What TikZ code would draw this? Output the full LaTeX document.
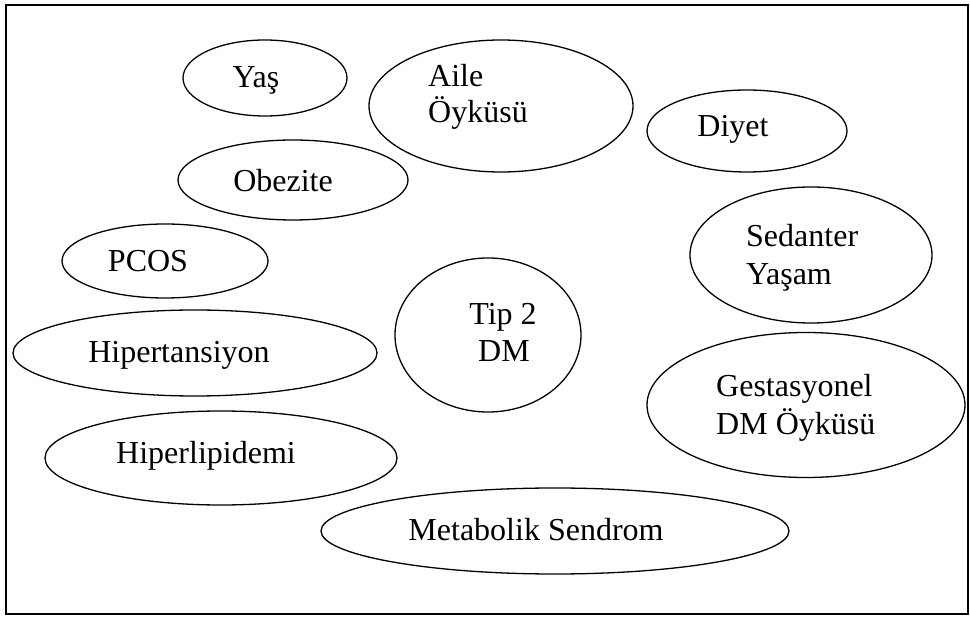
\documentclass[tikz,border=0pt]{standalone}
\usepackage{fontspec}
\setmainfont{Liberation Serif}
\usetikzlibrary{shapes.geometric}
\begin{document}
\begin{tikzpicture}[x=1pt,y=-1pt,
  oval/.style={draw=black,line width=1.3pt,ellipse,inner sep=0pt},
  lbl/.style={inner sep=0pt,font=\fontsize{32}{38}\selectfont},
  frame/.style={draw=black,line width=1.8pt}]
\useasboundingbox (0,0) rectangle (970,617);
\node[frame,rectangle,minimum width=962pt,minimum height=609pt,anchor=north west] (box) at (5,4) {};
% ellipses
\node[oval,minimum width=164pt,minimum height=76pt] (yas) at (265,78) {};
\node[oval,minimum width=264pt,minimum height=132pt] (aile) at (501,106) {};
\node[oval,minimum width=200pt,minimum height=82pt] (diyet) at (747,131) {};
\node[oval,minimum width=230pt,minimum height=80pt] (obez) at (293,180) {};
\node[oval,minimum width=206pt,minimum height=74pt] (pcos) at (165,261) {};
\node[oval,minimum width=242pt,minimum height=136pt] (sed) at (811,255) {};
\node[oval,minimum width=186pt,minimum height=154pt] (tip) at (488,335) {};
\node[oval,minimum width=364pt,minimum height=86pt] (hiper) at (195,353) {};
\node[oval,minimum width=318pt,minimum height=145pt] (gest) at (806,405) {};
\node[oval,minimum width=352pt,minimum height=94pt] (lipid) at (221,458) {};
\node[oval,minimum width=468pt,minimum height=86pt] (meta) at (555,531) {};
% texts
\node[lbl,anchor=base] (yasT) at (256,88) {Yaş};
\node[lbl,anchor=base west] (aileT1) at (428,87) {Aile};
\node[lbl,anchor=base west] (aileT2) at (428,123) {Öyküsü};
\node[lbl,anchor=base] (diyetT) at (733,137) {Diyet};
\node[lbl,anchor=base] (obezT) at (283,192) {Obezite};
\node[lbl,anchor=base] (pcosT) at (148,272) {PCOS};
\node[lbl,anchor=base west] (sedT1) at (746,247) {Sedanter};
\node[lbl,anchor=base west] (sedT2) at (746,285) {Yaşam};
\node[lbl,anchor=base] (tipT1) at (503,325) {Tip 2};
\node[lbl,anchor=base] (tipT2) at (504,362) {DM};
\node[lbl,anchor=base] (hiperT) at (179,363) {Hipertansiyon};
\node[lbl,anchor=base west] (gestT1) at (716,397) {Gestasyonel};
\node[lbl,anchor=base west] (gestT2) at (716,435) {DM Öyküsü};
\node[lbl,anchor=base] (lipidT) at (206,464) {Hiperlipidemi};
\node[lbl,anchor=base] (metaT) at (536,541) {Metabolik Sendrom};
\end{tikzpicture}
\end{document}
